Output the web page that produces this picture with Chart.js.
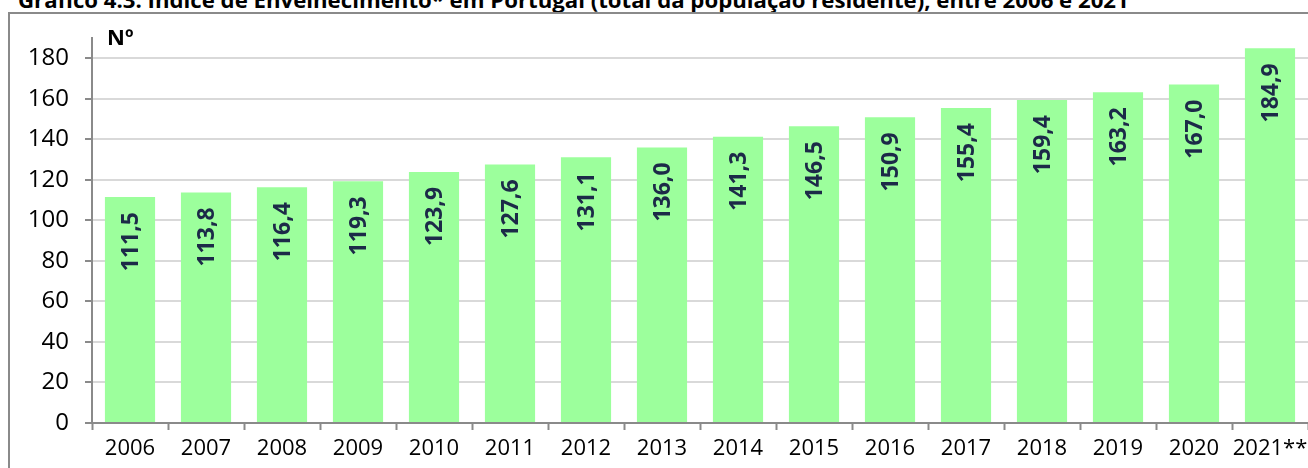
<!DOCTYPE html>
<html>
<head>
<meta charset="utf-8">
<script src="https://cdn.jsdelivr.net/npm/chart.js@4/dist/chart.umd.min.js"></script>
<style>
    body { margin: 0; background: #fff; overflow: hidden; }
    #wrap { position: relative; width: 1308px; height: 468px; overflow: hidden; }
    #title {
        position: absolute; left: 18px; top: -11px; white-space: nowrap;
        font: bold 22.2px "Open Sans", sans-serif; line-height: 22px; color: #000;
    }
    #frame {
        position: absolute; left: 8px; top: 12px; width: 1320px; height: 480px;
        border-left: 2px solid #8a8a8a; border-top: 2px solid #8a8a8a;
    }
    canvas { position: absolute; left: 0; top: 0; }
</style>
</head>
<body>
<div id="wrap">
    <div id="title">Gráfico 4.3: Índice de Envelhecimento* em Portugal (total da população residente), entre 2006 e 2021</div>
    <div id="frame"></div>
    <canvas id="myChart" width="1308" height="468"></canvas>
</div>
<script>
// Dados
var years = ["2006", "2007", "2008", "2009", "2010", "2011", "2012", "2013", "2014", "2015", "2016", "2017", "2018", "2019", "2020", "2021**"];
var indice = [111.5, 113.8, 116.4, 119.3, 123.9, 127.6, 131.1, 136.0, 141.3, 146.5, 150.9, 155.4, 159.4, 163.2, 167.0, 184.9];
var yTicks = [0, 20, 40, 60, 80, 100, 120, 140, 160, 180];

// Rotated value labels inside the bars
var barLabels = {
    id: 'barLabels',
    afterDatasetsDraw: function (chart) {
        var ctx = chart.ctx;
        var meta = chart.getDatasetMeta(0);
        ctx.save();
        ctx.fillStyle = '#1c2a48';
        ctx.font = 'bold 23px "Open Sans", sans-serif';
        ctx.textAlign = 'right';
        ctx.textBaseline = 'middle';
        meta.data.forEach(function (bar, i) {
            ctx.save();
            ctx.translate(bar.x + 1, bar.y + 15);
            ctx.rotate(-Math.PI / 2);
            ctx.fillText(indice[i].toFixed(1).replace('.', ','), 0, 0);
            ctx.restore();
        });
        // unit label
        ctx.fillStyle = '#000';
        ctx.font = 'bold 22px "Open Sans", sans-serif';
        ctx.textAlign = 'left';
        ctx.textBaseline = 'alphabetic';
        ctx.fillText('Nº', chart.chartArea.left + 15, 45);
        ctx.restore();
    }
};

var chartConfig = {
    type: 'bar',
    data: {
        labels: years,
        datasets: [{
            data: indice,
            backgroundColor: '#9cff9c',
            borderWidth: 0,
            barPercentage: 0.66,
            categoryPercentage: 1
        }]
    },
    options: {
        responsive: false,
        animation: false,
        layout: { padding: { top: 38, right: 0, left: 0, bottom: 0 } },
        plugins: { legend: { display: false }, tooltip: { enabled: false } },
        scales: {
            x: {
                grid: { display: true, drawOnChartArea: false, tickLength: 7, tickColor: '#8a8a8a', tickWidth: 2, offset: true },
                border: { color: '#8a8a8a', width: 2 },
                ticks: { color: '#000', font: { family: 'Open Sans', size: 22 }, padding: 6, maxRotation: 0, autoSkip: false },
                afterFit: function (scale) {
                    scale.height = 45;
                    scale.paddingLeft = 0;
                    scale.paddingRight = 0;
                }
            },
            y: {
                min: 0,
                max: 190,
                afterBuildTicks: function (scale) {
                    scale.ticks = yTicks.map(function (v) { return { value: v }; });
                },
                grid: { color: '#d9d9d9', lineWidth: 2, tickLength: 7, tickColor: '#8a8a8a', tickWidth: 2 },
                border: { color: '#8a8a8a', width: 2 },
                ticks: { color: '#000', font: { family: 'Open Sans', size: 24 }, padding: 16 },
                afterFit: function (scale) { scale.width = 92; }
            }
        }
    },
    plugins: [barLabels]
};

var myChart = new Chart(document.getElementById('myChart'), chartConfig);
</script>
</body>
</html>
